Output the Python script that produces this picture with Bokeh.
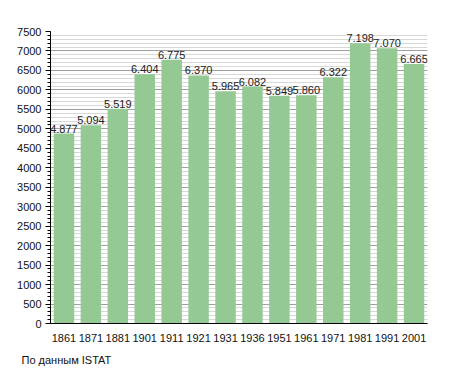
from bokeh.plotting import figure
from bokeh.models import ColumnDataSource, SingleIntervalTicker, Title
from bokeh.core.properties import value
from bokeh.embed import file_html
from bokeh.resources import INLINE

years = ["1861", "1871", "1881", "1901", "1911", "1921", "1931", "1936",
         "1951", "1961", "1971", "1981", "1991", "2001"]
population = [4877, 5094, 5519, 6404, 6775, 6370, 5965, 6082,
              5849, 5860, 6322, 7198, 7070, 6665]
labels = [f"{v:,}".replace(",", ".") for v in population]

src = ColumnDataSource(dict(x=years, top=population, label=labels))

FONT = "Liberation Sans"

p = figure(x_range=years, y_range=(0, 7500), width=447, height=373,
           output_backend="svg", toolbar_location=None,
           min_border_left=50, min_border_right=20, min_border_top=31,
           min_border_bottom=0, outline_line_color=None)

p.vbar(x="x", top="top", width=0.76, source=src,
       fill_color="#94c994", line_color=None)

p.text(x="x", y="top", text="label", source=src, text_align="center",
       text_baseline="bottom", y_offset=-1, text_font=value(FONT),
       text_font_size="11px", text_color="#222222")

# y axis
p.yaxis.ticker = SingleIntervalTicker(interval=500, num_minor_ticks=5)
p.yaxis.axis_line_color = "black"
p.yaxis.major_tick_line_color = "black"
p.yaxis.minor_tick_line_color = "black"
p.yaxis.major_tick_out = 5
p.yaxis.major_tick_in = 0
p.yaxis.minor_tick_out = 3
p.yaxis.minor_tick_in = 0
p.yaxis.major_label_text_font = FONT
p.yaxis.major_label_text_font_size = "11px"
p.yaxis.major_label_text_color = "#111111"
p.yaxis.major_label_standoff = 4

# x axis
p.xaxis.axis_line_color = "black"
p.xaxis.major_tick_line_color = None
p.xaxis.minor_tick_line_color = None
p.xaxis.major_label_text_font = FONT
p.xaxis.major_label_text_font_size = "11px"
p.xaxis.major_label_text_color = "#111111"
p.xaxis.major_label_standoff = 4

# grid
p.xgrid.grid_line_color = None
p.ygrid.grid_line_color = "#a0a0a0"
p.ygrid.minor_grid_line_color = "#d8d8d8"
p.ygrid.level = "underlay"

p.add_layout(Title(text="По данным ISTAT", align="left", offset=-29,
                   text_font=FONT, text_font_size="11px",
                   text_font_style="normal", text_color="#111111",
                   vertical_align="bottom", standoff=15), "below")

open("out.html", "w").write(file_html(p, INLINE))
